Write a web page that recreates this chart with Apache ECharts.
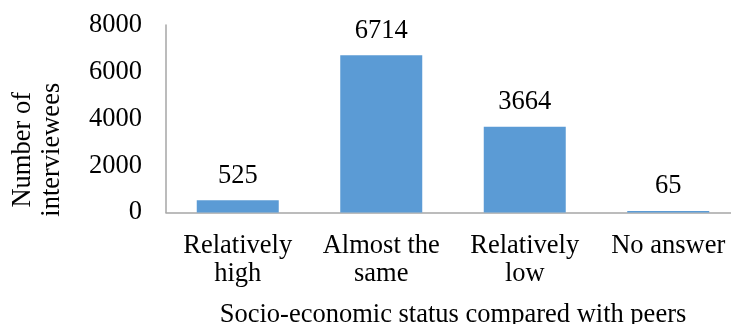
<!DOCTYPE html>
<html>
<head>
<meta charset="utf-8">
<script src="https://cdn.jsdelivr.net/npm/echarts@6/dist/echarts.min.js"></script>
<style>
  html, body { margin: 0; padding: 0; background: #fff; }
  #chart { width: 731px; height: 324px; }
</style>
</head>
<body>
<div id="chart"></div>
<script>
// Socio-economic status of interviewees compared with their peers
const categories = ['Relatively\nhigh', 'Almost the\nsame', 'Relatively\nlow', 'No answer'];
const interviewees = [525, 6714, 3664, 65];
const yTicks = [0, 2000, 4000, 6000, 8000];

const serif = '"Liberation Serif", "Times New Roman", serif';
const axisGrey = '#a6a6a6';
const fs = 26.5;

const chart = echarts.init(document.getElementById('chart'), null, { renderer: 'canvas' });
chart.setOption({
  animation: false,
  backgroundColor: '#ffffff',
  textStyle: { fontFamily: serif, color: '#000' },
  grid: { left: 166, top: 25, bottom: 111.5, width: 574, containLabel: false, outerBoundsMode: 'none' },
  xAxis: {
    type: 'category',
    data: categories,
    name: 'Socio-economic status compared with peers',
    nameLocation: 'middle',
    nameGap: 89,
    nameTextStyle: { fontFamily: serif, fontSize: fs, color: '#000' },
    axisLine: { show: true, lineStyle: { color: axisGrey, width: 1.5 } },
    axisTick: { show: false },
    axisLabel: { fontFamily: serif, fontSize: fs, color: '#000', lineHeight: 28, margin: 20, interval: 0 }
  },
  yAxis: {
    type: 'value',
    min: yTicks[0],
    max: yTicks[yTicks.length - 1],
    interval: yTicks[1] - yTicks[0],
    name: 'Number of\ninterviewees',
    nameLocation: 'middle',
    nameGap: 99,
    nameTextStyle: { fontFamily: serif, fontSize: fs, color: '#000', lineHeight: 29, padding: [0, 62, 0, 0] },
    axisLine: { show: true, lineStyle: { color: axisGrey, width: 1.5 } },
    axisTick: { show: false },
    splitLine: { show: false },
    axisLabel: { fontFamily: serif, fontSize: fs, color: '#000', margin: 24, formatter: v => String(v) }
  },
  series: [{
    type: 'bar',
    data: interviewees,
    barWidth: 82,
    itemStyle: { color: '#5b9bd5' },
    label: {
      show: true,
      position: 'top',
      distance: 11,
      fontFamily: serif,
      fontSize: fs,
      color: '#000'
    }
  }]
});
</script>
</body>
</html>
